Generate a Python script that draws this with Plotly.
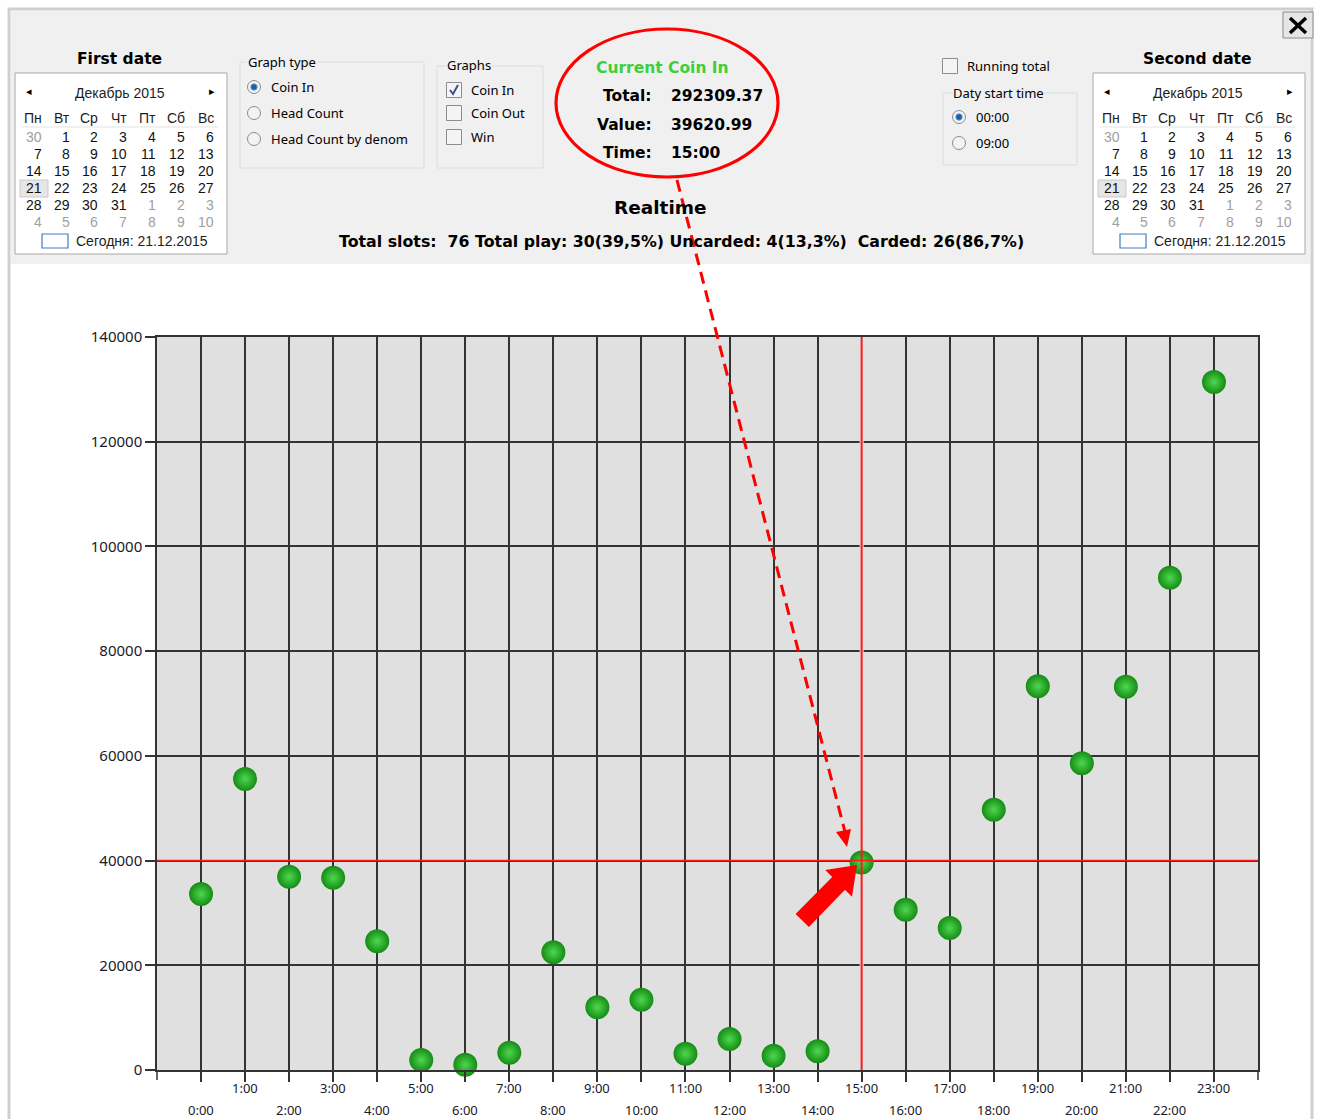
import plotly.graph_objects as go

# ---------------- data ----------------
hours = ["0:00", "1:00", "2:00", "3:00", "4:00", "5:00", "6:00", "7:00",
         "8:00", "9:00", "10:00", "11:00", "12:00", "13:00", "14:00", "15:00",
         "16:00", "17:00", "18:00", "19:00", "20:00", "21:00", "22:00", "23:00"]
coin_in = [33600, 55600, 36900, 36700, 24600, 1900, 1000, 3300,
           22500, 12000, 13400, 3100, 5900, 2700, 3600, 39620.99,
           30600, 27100, 49700, 73300, 58600, 73200, 94000, 131400]
y_ticks = [0, 20000, 40000, 60000, 80000, 100000, 120000, 140000]
cross_time = "15:00"
cross_value = 40000

cal_month = "Декабрь 2015"
day_names = ["Пн", "Вт", "Ср", "Чт", "Пт", "Сб", "Вс"]
cal_weeks = [[30, 1, 2, 3, 4, 5, 6],
             [7, 8, 9, 10, 11, 12, 13],
             [14, 15, 16, 17, 18, 19, 20],
             [21, 22, 23, 24, 25, 26, 27],
             [28, 29, 30, 31, 1, 2, 3],
             [4, 5, 6, 7, 8, 9, 10]]
today_text = "Сегодня: 21.12.2015"
selected_day = 21

graph_types = ["Coin In", "Head Count", "Head Count by denom"]
graphs = ["Coin In", "Coin Out", "Win"]
start_times = ["00:00", "09:00"]

info_title = "Current Coin In"
info_labels = ["Total:", "Value:", "Time:"]
info_values = ["292309.37", "39620.99", "15:00"]
chart_title = "Realtime"
summary = ("Total slots:\u00a0\u00a076 Total play: 30(39,5%) Uncarded: 4(13,3%)"
           "\u00a0\u00a0Carded: 26(86,7%)")

# ---------------- geometry helpers ----------------
W, H = 1318, 1119
PL, PR, PT, PB = 157, 1258, 337, 1070


def X(px):
    return (px - PL) / (PR - PL)


def Y(py):
    return (PB - py) / (PB - PT)


shapes = []
annotations = []

UI = "Noto Sans"
CAL = "Liberation Sans"
BOLD = "DejaVu Sans"


def text(px, py, s, size=13, family=UI, color="#000000", anchor="left",
         bold=False, bg=None):
    d = dict(xref="paper", yref="paper", x=X(px), y=Y(py),
             text=("<b>%s</b>" % s) if bold else s, showarrow=False,
             xanchor=anchor, yanchor="middle",
             font=dict(size=size, family=family, color=color), borderpad=0)
    if bg:
        d["bgcolor"] = bg
    annotations.append(d)


def rect(x0, y0, x1, y1, fill=None, line=None, width=1, layer="above"):
    shapes.append(dict(type="rect", xref="paper", yref="paper",
                       x0=X(x0), x1=X(x1), y0=Y(y1), y1=Y(y0),
                       fillcolor=fill if fill else "rgba(0,0,0,0)",
                       line=dict(color=line if line else "rgba(0,0,0,0)",
                                 width=width if line else 0),
                       layer=layer))


def circle(cx, cy, r, fill=None, line=None, width=1):
    shapes.append(dict(type="circle", xref="paper", yref="paper",
                       x0=X(cx - r), x1=X(cx + r), y0=Y(cy + r), y1=Y(cy - r),
                       fillcolor=fill if fill else "rgba(0,0,0,0)",
                       line=dict(color=line if line else "rgba(0,0,0,0)",
                                 width=width if line else 0)))


def seg(x0, y0, x1, y1, color, width=1, dash=None):
    ln = dict(color=color, width=width)
    if dash:
        ln["dash"] = dash
    shapes.append(dict(type="line", xref="paper", yref="paper",
                       x0=X(x0), y0=Y(y0), x1=X(x1), y1=Y(y1), line=ln))


def poly(pts, fill, line=None, width=0, closed=True):
    p = "M " + " L ".join("%f,%f" % (X(a), Y(b)) for a, b in pts)
    if closed:
        p += " Z"
    shapes.append(dict(type="path", xref="paper", yref="paper", path=p,
                       fillcolor=fill if fill else "rgba(0,0,0,0)",
                       line=dict(color=line if line else "rgba(0,0,0,0)",
                                 width=width)))


# ---------------- window / panel ----------------
rect(11, 11, 1310, 264, fill="#f0f0f0", layer="below")
rect(9, 9, 1312, 1125, line="#cfcfcf", width=3, layer="below")

# close button
rect(1283, 12, 1313, 38, fill="#e6e6e6", line="#8a8a8a", width=1)
seg(1290, 18, 1306, 33, "#000000", 3.5)
seg(1306, 18, 1290, 33, "#000000", 3.5)


# ---------------- calendars ----------------
def calendar(dx, title):
    text(119 + dx, 59, title, size=15.5, family=BOLD, anchor="center", bold=True)
    rect(15 + dx, 73, 227 + dx, 254, fill="#ffffff", line="#a8a8a8", width=1)
    text(29 + dx, 92, "◂", size=11, family="DejaVu Sans", anchor="center")
    text(212 + dx, 92, "▸", size=11, family="DejaVu Sans", anchor="center")
    text(120 + dx, 93, cal_month, size=14, family=CAL, anchor="center",
         color="#1e1e1e")
    col_r = [43, 71, 99, 128, 157, 186, 215]
    for i, dn in enumerate(day_names):
        text(col_r[i] + dx, 118, dn, size=14, family=CAL, anchor="right",
             color="#1e1e1e")
    seg(22 + dx, 127, 218 + dx, 127, "#e3e3e3", 1)
    row_y = [137, 154, 171, 188, 205, 222]
    for r, week in enumerate(cal_weeks):
        for c, d in enumerate(week):
            other = (r == 0 and d > 7) or (r >= 4 and d < 15)
            if not other and d == selected_day:
                rect(20 + dx, 180, 48 + dx, 197, fill="#e6e6e6",
                     line="#c9c9c9", width=1)
            text(col_r[c] + dx, row_y[r], str(d), size=14, family=CAL,
                 anchor="right", color="#a0a0a0" if other else "#111111")
    rect(42 + dx, 234, 68 + dx, 248, fill="#ffffff", line="#3d7fc0", width=1.2)
    text(75 + dx, 241, today_text, size=14, family=CAL, anchor="left",
         color="#1e1e1e")


calendar(0, "First date")
calendar(1078, "Second date")


# ---------------- radio / check groups ----------------
def radio(cx, cy, selected):
    circle(cx, cy, 6.5, fill="#f3f3f3", line="#8c8c8c", width=1)
    if selected:
        circle(cx, cy, 3.2, fill="#1f5d9e", line="#5f9ad6", width=1)


def checkbox(cx, cy, checked):
    rect(cx - 7.5, cy - 7.5, cx + 7.5, cy + 7.5, fill="#f4f4f4",
         line="#8c8c8c", width=1)
    if checked:
        poly([(cx - 4, cy), (cx - 1, cy + 4), (cx + 4, cy - 5)], None,
             line="#3f4f8f", width=2, closed=False)


# Graph type
rect(240, 62, 424, 168, line="#d8dde3", width=1)
text(247, 62, "Graph type", size=13, bg="#f0f0f0")
for i, (lbl, yy) in enumerate(zip(graph_types, [87, 113, 139])):
    radio(254, yy, i == 0)
    text(270, yy, lbl, size=13)

# Graphs
rect(437, 66, 543, 168, line="#d8dde3", width=1)
text(446, 65, "Graphs", size=13, bg="#f0f0f0")
for i, (lbl, yy) in enumerate(zip(graphs, [90, 113, 137])):
    checkbox(454, yy, i == 0)
    text(470, yy, lbl, size=13)

# Running total + start time
checkbox(950, 66, False)
text(966, 66, "Running total", size=13)
rect(943, 93, 1077, 165, line="#d8dde3", width=1)
text(952, 93, "Daty start time", size=13, bg="#f0f0f0")
for i, (lbl, yy) in enumerate(zip(start_times, [117, 143])):
    radio(959, yy, i == 0)
    text(975, yy, lbl, size=13)

# ---------------- info block ----------------
text(662, 68, info_title, size=15.5, family=BOLD, color="#3cd03c",
     anchor="center", bold=True)
for lbl, val, yy in zip(info_labels, info_values, [96, 125, 153]):
    text(653, yy, lbl, size=15.5, family=BOLD, anchor="right", bold=True)
    text(670, yy, val, size=15.5, family=BOLD, anchor="left", bold=True)
text(660, 208, chart_title, size=18.5, family=BOLD, anchor="center", bold=True)
text(681, 241, summary, size=15.8, family=BOLD, anchor="center", bold=True)

# ---------------- red annotations ----------------
shapes.append(dict(type="circle", xref="paper", yref="paper",
                   x0=X(556), x1=X(778), y0=Y(177), y1=Y(29),
                   line=dict(color="#ff0000", width=3.2)))
seg(677, 180, 845, 832, "#ff0000", 3, dash="12px,7px")
poly([(836, 832), (851, 829), (847, 847)], "#ff0000")
poly([(795.6, 914.1), (832.2, 877.0), (825.2, 870.0), (857.0, 865.0),
      (852.0, 896.8), (845.0, 889.8), (808.9, 926.9)], "#ff0000")

# ---------------- crosshair (data coords) ----------------
shapes.append(dict(type="line", xref="x", yref="y", x0=cross_time,
                   x1=cross_time, y0=y_ticks[0], y1=y_ticks[-1],
                   layer="between", line=dict(color="#e0e0e0", width=4)))
shapes.append(dict(type="line", xref="paper", yref="y", x0=0, x1=1,
                   y0=cross_value, y1=cross_value, layer="between",
                   line=dict(color="#e0e0e0", width=4)))
shapes.append(dict(type="line", xref="x", yref="paper", x0=cross_time,
                   x1=cross_time, y0=0, y1=1, layer="above",
                   line=dict(color="#ff1a1a", width=2)))
shapes.append(dict(type="line", xref="paper", yref="y", x0=0, x1=1,
                   y0=cross_value, y1=cross_value, layer="above",
                   line=dict(color="#ff1a1a", width=1.5)))

# corner ticks at plot edges
for xe in (0, 1):
    shapes.append(dict(type="line", xref="paper", yref="paper",
                       ysizemode="pixel", yanchor=0, x0=xe, x1=xe,
                       y0=0, y1=-10, line=dict(color="#333333", width=1.5)))

# x tick labels in two staggered rows
for i, h in enumerate(hours):
    annotations.append(dict(xref="x", yref="paper", x=h, y=0,
                            text=h, showarrow=False, xanchor="center",
                            yanchor="middle",
                            yshift=-18 if i % 2 == 1 else -40,
                            font=dict(size=13, family=UI, color="#1a1a2a")))

# ---------------- figure ----------------
fig = go.Figure()
fig.add_trace(go.Scatter(
    x=hours, y=coin_in, mode="markers", cliponaxis=False,
    marker=dict(size=24, color="#158c15",
                gradient=dict(type="radial", color="#4fd84f"),
                line=dict(width=0)),
    hoverinfo="x+y", showlegend=False))

fig.update_layout(
    width=W, height=H,
    margin=dict(l=PL, r=W - PR, t=PT, b=H - PB, pad=0),
    paper_bgcolor="#ffffff", plot_bgcolor="#e0e0e0",
    shapes=shapes, annotations=annotations, showlegend=False,
    xaxis=dict(type="category", categoryorder="array", categoryarray=hours,
               range=[-1, 24], showgrid=True, gridcolor="#333333",
               gridwidth=1.5, ticks="outside", ticklen=10, tickwidth=1.5,
               tickcolor="#333333", showticklabels=False, showline=True,
               linecolor="#333333", linewidth=1.5, mirror=True,
               zeroline=False, fixedrange=True),
    yaxis=dict(range=[0, 140000], tickvals=y_ticks, tickformat="d",
               showgrid=True, gridcolor="#333333", gridwidth=1.5,
               ticks="outside", ticklen=10, tickwidth=1.5,
               tickcolor="#333333", showline=True, linecolor="#333333",
               linewidth=1.5, mirror=True, zeroline=False,
               tickfont=dict(size=15, family=UI, color="#1a1a2a"),
               fixedrange=True),
)

fig.write_html("out.html", config={"displayModeBar": False},
               post_script="document.body.style.margin='0';")
